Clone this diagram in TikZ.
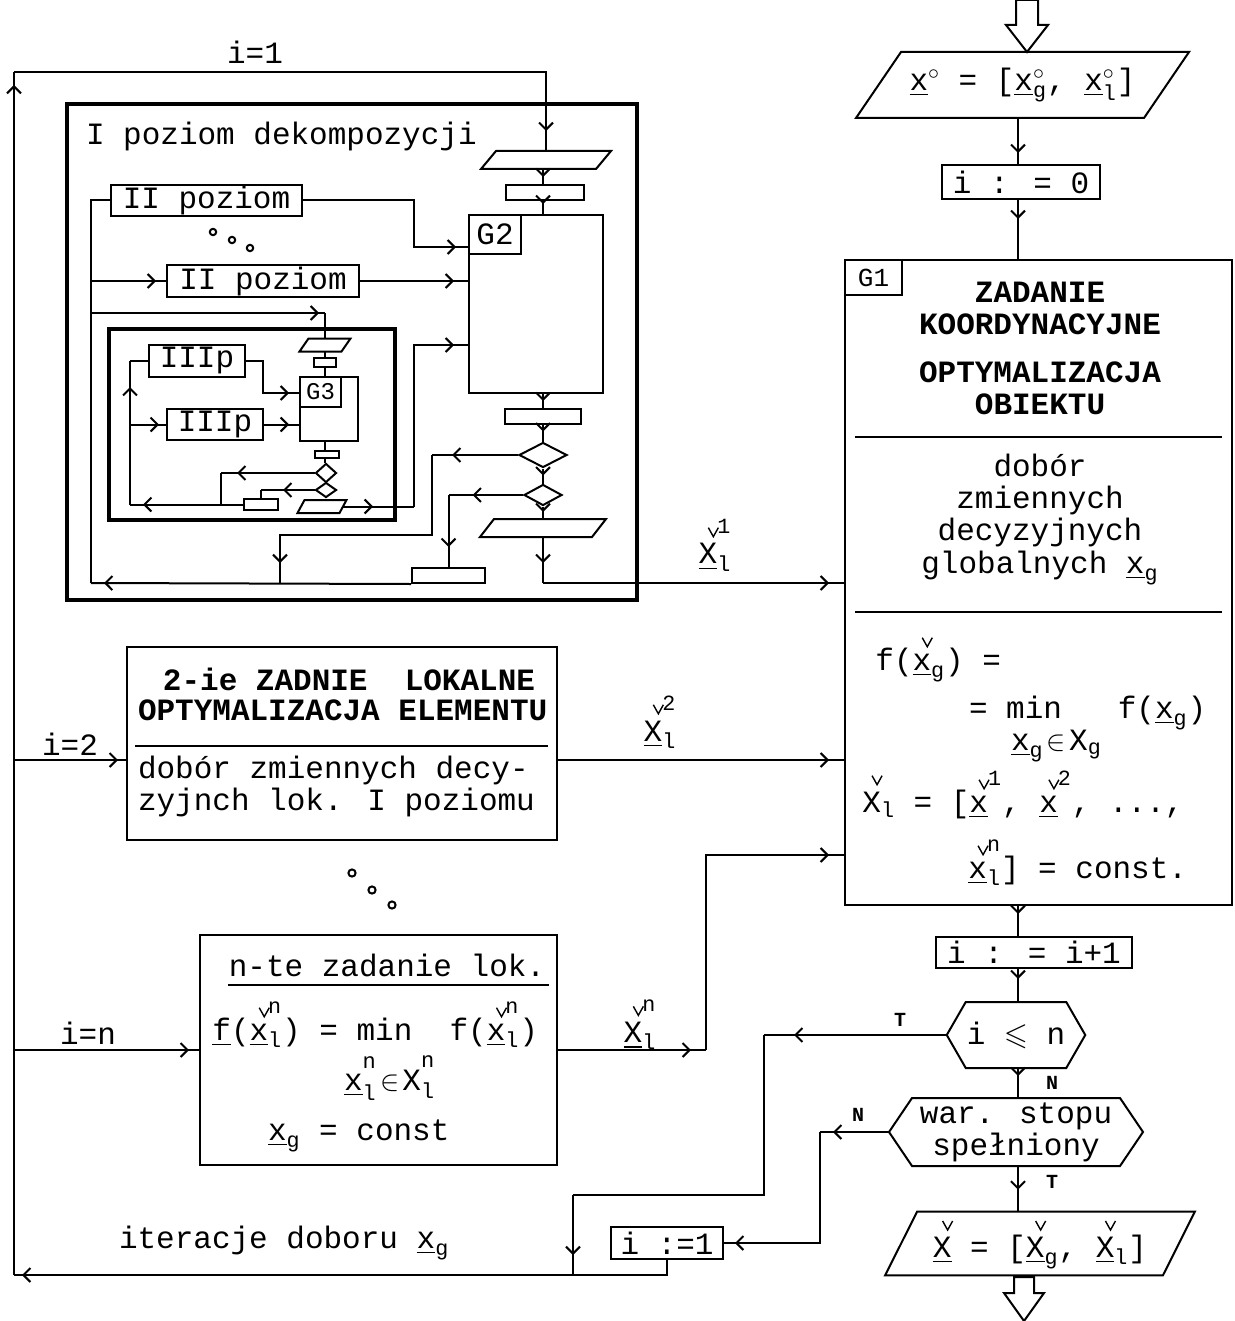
\documentclass[tikz,border=0pt]{standalone}
\usepackage{amsmath}
\usepackage{amssymb}
\usepackage{fontspec}
\setmainfont{Liberation Mono}
\usetikzlibrary{shapes.geometric, arrows.meta, calc, decorations.markings}
\newcommand{\ux}{\underline{\text{x}}}
\newcommand{\uX}{\underline{\text{X}}}
\newcommand{\chk}[1]{\overset{\tikz\draw[line width=0.7pt] (0,0) -- (5,9) -- (10,0);}{#1}}

\begin{document}
\begin{tikzpicture}[
    x=0.5pt, y=-0.5pt, line width=1pt,
    font=\fontsize{15.5}{16}\selectfont,
    >={Straight Barb[length=3.5pt,width=7pt]},
    box/.style={draw, inner sep=0pt},
    frame/.style={draw, line width=1.6pt, inner sep=0pt},
    dia/.style={draw, diamond, inner sep=0pt},
    arr/.style={postaction={decorate}, decoration={markings, mark=at position #1 with {\arrow{>}}}},
    tn/.style={font=\fontsize{10}{12}\selectfont\bfseries},
    capsb/.style={font=\fontsize{15.5}{16}\selectfont\bfseries},
    txt/.style={anchor=base west, inner sep=0pt},
    ctxt/.style={anchor=base, inner sep=0pt}
]
\path[use as bounding box] (0,0) rectangle (1235,1321);
\coordinate (col) at (1018,0);
\coordinate (col2) at (543,0);
\coordinate (col3) at (325,0);

% main column
\draw (1016,0) -- (1038,0) -- (1038,25) -- (1048,25) -- (1027,52) -- (1006,25) -- (1016,25) -- cycle;
\node[inner sep=0pt, minimum width=143pt, minimum height=32pt] (P0) at (1022.5,85) {$\ux^{\circ}$ = [$\ux^{\circ}_{\text{g}}$, $\ux^{\circ}_{\text{l}}$]};
\draw ($(P0.north west)+(22.5,0)$) -- ($(P0.north east)+(22.5,0)$) -- ($(P0.south east)-(22.5,0)$) -- ($(P0.south west)-(22.5,0)$) -- cycle;
\node[box, minimum width=79pt, minimum height=17pt] (i0) at (1021,182) {i : = 0};

\node[box, minimum width=193.5pt, minimum height=322.5pt] (G1) at (1038.5,582.5) {};
\node[box, minimum width=28.5pt, minimum height=17.5pt, font=\fontsize{13}{14}\selectfont] (G1lab) at (873.5,277.5) {G1};
\node[ctxt, capsb] (g1a) at (1040,302) {ZADANIE};
\node[ctxt, capsb] (g1b) at (1040,334) {KOORDYNACYJNE};
\node[ctxt, capsb] (g1c) at (1040,382) {OPTYMALIZACJA};
\node[ctxt, capsb] (g1d) at (1040,414) {OBIEKTU};
\draw (855,437) -- (1222,437);
\node[ctxt] (g1e) at (1040,476) {dobór};
\node[ctxt] (g1f) at (1040,508) {zmiennych};
\node[ctxt] (g1g) at (1040,540) {decyzyjnych};
\node[ctxt] (g1h) at (1040,573) {globalnych $\ux_{\text{g}}$};
\draw (855,612) -- (1222,612);
\node[txt] (g1i) at (875,670) {f($\chk{\ux}_{\text{g}}$) =};
\node[txt] (g1j) at (968,718) {= min\ \ \ f($\ux_{\text{g}}$)};
\node[txt] (g1k) at (1010,750) {$\ux_{\text{g}}\!\in\!\text{X}_{\text{g}}$};
\node[txt] (g1l) at (862,812) {$\chk{\text{X}}_{\text{l}}$ = [$\chk{\ux}^{\text{1}}$, $\chk{\ux}^{\text{2}}$, ...,};
\node[txt] (g1m) at (968,878) {$\chk{\ux}^{\text{n}}_{\text{l}}$] = const.};

\node[box, minimum width=98pt, minimum height=15.5pt] (inc) at (1034,952.5) {i : = i+1};
\node[inner sep=0pt, minimum width=48.5pt, minimum height=32pt] (H1) at (1016,1035) {i $\leqslant$ n};
\draw (H1.north west) -- (H1.north east) -- ($(H1.east)+(19,0)$) -- (H1.south east) -- (H1.south west) -- ($(H1.west)-(19,0)$) -- cycle;
\coordinate (H1w) at ($(H1.west)-(19,0)$);
\node[inner sep=0pt, minimum width=103pt, minimum height=33pt, align=center] (H2) at (1016,1132) {war. stopu\\spełniony};
\draw (H2.north west) -- (H2.north east) -- ($(H2.east)+(23,0)$) -- (H2.south east) -- (H2.south west) -- ($(H2.west)-(23,0)$) -- cycle;
\coordinate (H2w) at ($(H2.west)-(23,0)$);
\node[inner sep=0pt, minimum width=138.5pt, minimum height=31.5pt] (Pout) at (1040,1243.5) {$\chk{\uX}$ = [$\chk{\uX}_{\text{g}}$, $\chk{\uX}_{\text{l}}$]};
\draw ($(Pout.north west)+(16,0)$) -- ($(Pout.north east)+(16,0)$) -- ($(Pout.south east)-(16,0)$) -- ($(Pout.south west)-(16,0)$) -- cycle;
\draw (1014,1277) -- (1034,1277) -- (1034,1293) -- (1044,1293) -- (1024,1321) -- (1004,1293) -- (1014,1293) -- cycle;

\node[tn] (lN1) at (1052,1083) {N};
\node[tn] (lT1) at (1052,1182) {T};
\node[tn] (lT2) at (900,1020) {T};
\node[tn] (lN2) at (858,1115) {N};
\node[box, minimum width=56pt, minimum height=16pt] (i1) at (667,1243) {i :=1};
\node[txt] (iter) at (118,1248) {iteracje doboru $\ux_{\text{g}}$};

% local tasks
\node[box, minimum width=215pt, minimum height=96.5pt] (T2) at (342,743.5) {};
\node[ctxt, capsb] (t2a) at (349,690) {2-ie ZADNIE\ \ LOKALNE};
\node[txt, capsb] (t2b) at (137,720) {OPTYMALIZACJA ELEMENTU};
\draw (135,746) -- (548,746);
\node[txt] (t2c) at (137,778) {dobór zmiennych decy-};
\node[txt] (t2d) at (137,810) {zyjnch lok. I poziomu};
\coordinate (t2i) at (127,760);
\coordinate (t2o) at (557,760);
\node (l2) at (70,744) {i=2};
\node (lx2) at (660,722) {$\chk{\uX}^{\text{2}}_{\text{l}}$};
\draw (352,873) circle[radius=1.8pt] (372,890) circle[radius=1.8pt] (392,905) circle[radius=1.8pt];

\node[box, minimum width=178.5pt, minimum height=115pt] (Tn) at (378.5,1050) {};
\node[ctxt] (tn1) at (387,976) {n-te zadanie lok.};
\draw ($(tn1.base west)+(0,9)$) -- ($(tn1.base east)+(3,9)$);
\node[txt] (tn2) at (212,1040) {\underline{f}($\chk{\ux}^{\text{n}}_{\text{l}}$) = min\ \ f($\chk{\ux}^{\text{n}}_{\text{l}}$)};
\node[txt] (tn3) at (343,1090) {${\ux}^{\raisebox{5.5pt}{\fontsize{11}{11}\selectfont n}}_{\text{l}}\!\in\!{\text{X}}^{\raisebox{5.5pt}{\fontsize{11}{11}\selectfont n}}_{\text{l}}$};
\node[txt] (tn4) at (267,1140) {$\ux_{\text{g}}$ = const};
\node (ln) at (88,1033) {i=n};
\node (lxn) at (640,1025) {$\chk{\uX}^{\text{n}}_{\text{l}}$};
\coordinate (xnk) at (706,855);

% I poziom dekompozycji
\node[frame, minimum width=285pt, minimum height=248pt] (L1) at (352,352) {};
\node[txt] (L1t) at (85,145) {I poziom dekompozycji};
\node[inner sep=0pt, minimum width=56.5pt, minimum height=8pt] (A1) at (546,160) {};
\draw ($(A1.north west)+(7.5,0)$) -- ($(A1.north east)+(7.5,0)$) -- ($(A1.south east)-(7.5,0)$) -- ($(A1.south west)-(7.5,0)$) -- cycle;
\node[box, minimum width=39pt, minimum height=7.5pt] (B1) at (545,192.5) {};
\node[box, minimum width=67pt, minimum height=89pt] (G2) at (536,304) {};
\node[box, minimum width=26pt, minimum height=19.5pt] (G2lab) at (495,234.5) {G2};
\node[box, minimum width=38pt, minimum height=7.5pt] (C1) at (543,416.5) {};
\node[dia, minimum width=24pt, minimum height=12.5pt] (D1) at (543,455) {};
\node[dia, minimum width=19pt, minimum height=10.5pt] (D2) at (543,495) {};
\node[inner sep=0pt, minimum width=55pt, minimum height=8pt] (A2) at (543,528) {};
\draw ($(A2.north west)+(7,0)$) -- ($(A2.north east)+(7,0)$) -- ($(A2.south east)-(7,0)$) -- ($(A2.south west)-(7,0)$) -- cycle;
\node[box, minimum width=36.5pt, minimum height=7.5pt] (E1) at (448.5,575.5) {};
\node[box, minimum width=95.5pt, minimum height=15.5pt] (II1) at (206.5,200.5) {II poziom};
\node[box, minimum width=96pt, minimum height=16pt] (II2) at (263,281) {II poziom};
\draw (213,232) circle[radius=1.6pt] (232,240) circle[radius=1.6pt] (250,248) circle[radius=1.6pt];
\coordinate (lbl) at (91,583);
\coordinate (ii1k) at (414,247);
\coordinate (a3k) at (325,313);
\coordinate (a4k) at (414,345);
\coordinate (d1k) at (432,535);
\coordinate (d1e) at (280,583);
\coordinate (x1k) at (543,583);

% III poziom
\node[frame, minimum width=143pt, minimum height=95.5pt] (L3) at (252,424.5) {};
\node[inner sep=0pt, minimum width=20pt, minimum height=5.5pt] (A3) at (325,345) {};
\draw ($(A3.north west)+(4.5,0)$) -- ($(A3.north east)+(4.5,0)$) -- ($(A3.south east)-(4.5,0)$) -- ($(A3.south west)-(4.5,0)$) -- cycle;
\node[box, minimum width=11pt, minimum height=4.5pt] (B3) at (325,362.5) {};
\node[box, minimum width=29pt, minimum height=32pt] (G3) at (329,409) {};
\node[box, minimum width=20.5pt, minimum height=15pt, font=\fontsize{12}{13}\selectfont] (G3lab) at (320.5,392) {G3};
\node[box, minimum width=12pt, minimum height=3.5pt] (C3) at (327,454.5) {};
\node[dia, minimum width=10.5pt, minimum height=9.5pt] (D3a) at (326,473) {};
\node[dia, minimum width=10.5pt, minimum height=7.5pt] (D3b) at (326,490) {};
\node[inner sep=0pt, minimum width=20pt, minimum height=5.5pt] (A4) at (322,506.5) {};
\draw ($(A4.north west)+(3.5,0)$) -- ($(A4.north east)+(3.5,0)$) -- ($(A4.south east)-(3.5,0)$) -- ($(A4.south west)-(3.5,0)$) -- cycle;
\node[box, minimum width=48pt, minimum height=16pt] (III1) at (197,361) {IIIp};
\node[box, minimum width=48pt, minimum height=15.5pt] (III2) at (215,424.5) {IIIp};
\node[box, minimum width=17pt, minimum height=5.5pt] (E3) at (261,504.5) {};
\coordinate (ib) at (130,504.5);
\coordinate (g3k) at (263,393);
\coordinate (d3k) at (221,504.5);

% connectors, main column
\draw[arr=-5.5pt] (col |- P0.south) -- (col |- i0.north);
\draw[arr=-20pt] (col |- i0.south) -- (col |- G1.north);
\draw[arr=-11pt] (col |- G1.south) -- (col |- inc.north);
\draw[arr=-11.5pt] (col |- inc.south) -- (col |- H1.north);
\draw[arr=-11pt] (col |- H1.south) -- (col |- H2.north);
\draw[arr=-11pt] (col |- H2.south) -- (col |- Pout.north);

% loop back
\coordinate (tk1) at (764,1195);
\coordinate (tk2) at (573,1195);
\coordinate (loopB) at (14,1275);
\coordinate (loopT) at (14,72);
\coordinate (nk) at (820,1243);
\draw[arr=-15pt] (H1w) -- (H1w -| tk1);
\draw (H1w -| tk1) -- (tk1) -- (tk2);
\draw[arr=-10pt] (tk2) -- (tk2 |- loopB);
\draw[arr=-6.5pt] (H2w) -- (H2w -| nk);
\draw[arr=-5.5pt] (H2w -| nk) -- (nk) -- (i1.east);
\draw[arr=-4pt] (i1.south) |- (loopB);
\draw[arr=-6.5pt] (loopB) -- (loopT);
\draw[arr=-10pt] (loopT) -| (A1.north);
\node (l1) at (255,52) {i=1};
\draw[arr=-4.5pt] (loopT |- t2i) -- (t2i);
\draw[arr=-7.5pt] (t2o) -- (G1.west |- t2o);
\draw[arr=-5pt] (loopT |- Tn.west) -- (Tn.west);
\draw[arr=-7.5pt] (Tn.east) -- (Tn.east -| xnk);
\draw[arr=-7.5pt] (Tn.east -| xnk) -- (xnk) -- (G1.west |- xnk);

% G2 column
\draw[arr=-3.5pt] (col2 |- A1.south) -- (col2 |- B1.north);
\draw[arr=-5pt] (col2 |- B1.south) -- (col2 |- G2.north);
\draw[arr=-3.5pt] (col2 |- G2.south) -- (col2 |- C1.north);
\draw[arr=-5pt] (col2 |- C1.south) -- (D1.north);
\draw[arr=-4pt] (D1.south) -- (D2.north);
\draw[arr=-3.5pt] (D2.south) -- (A2.north);
\draw[arr=-10pt] (A2.south) -- (x1k);
\draw[arr=-7.5pt] (x1k) -- (G1.west |- x1k);
\node (lx1) at (715,545) {$\chk{\uX}^{\text{1}}_{\text{l}}$};
\draw[arr=-10pt] (D1.west) -- (D1.west -| d1k);
\draw[arr=-10pt] (D1.west -| d1k) -- (d1k) -| (d1e);
\draw[arr=-12pt] (D2.west) -- (D2.west -| E1.north);
\draw[arr=-10pt] (D2.west -| E1.north) -- (E1.north);
\draw[arr=-6.5pt] (E1.south west) -- (lbl);
\draw (lbl) |- (II1.west);
\draw[arr=-6pt] (II1.east) -| (ii1k) -- (G2.west |- ii1k);
\draw[arr=-5pt] (lbl |- II2.west) -- (II2.west);
\draw[arr=-7pt] (II2.east) -- (G2.west |- II2.east);
\draw[arr=-3pt] (lbl |- a3k) -- (a3k);
\draw (a3k) -- (A3.north);

% G3 column
\draw (col3 |- A3.south) -- (col3 |- B3.north);
\draw (col3 |- B3.south) -- (col3 |- G3.north);
\draw (col3 |- G3.south) -- (col3 |- C3.north);
\draw (col3 |- C3.south) -- (col3 |- D3a.north);
\draw (col3 |- D3b.south) -- (col3 |- A4.north);
\draw[arr=-6.5pt] (E3.west) -- (ib);
\draw[arr=-13pt] (ib) -- (ib |- III1.west);
\draw (ib |- III1.west) -- (III1.west);
\draw[arr=-3.5pt] (ib |- III2.west) -- (III2.west);
\draw[arr=-5pt] (III1.east) -| (g3k) -- (G3.west |- g3k);
\draw[arr=-5pt] (III2.east) -- (G3.west |- III2.east);
\draw[arr=-8pt] (D3a.west) -- (D3a.west -| d3k);
\draw (D3a.west -| d3k) -- (d3k);
\draw[arr=-11pt] (D3b.west) -- (D3b.west -| E3.north);
\draw (D3b.west -| E3.north) -- (E3.north);
\draw[arr=-20.5pt] (A4.east) -- (A4.east -| a4k);
\draw[arr=-7pt] (A4.east -| a4k) -- (a4k) -- (G2.west |- a4k);
\end{tikzpicture}
\end{document}
